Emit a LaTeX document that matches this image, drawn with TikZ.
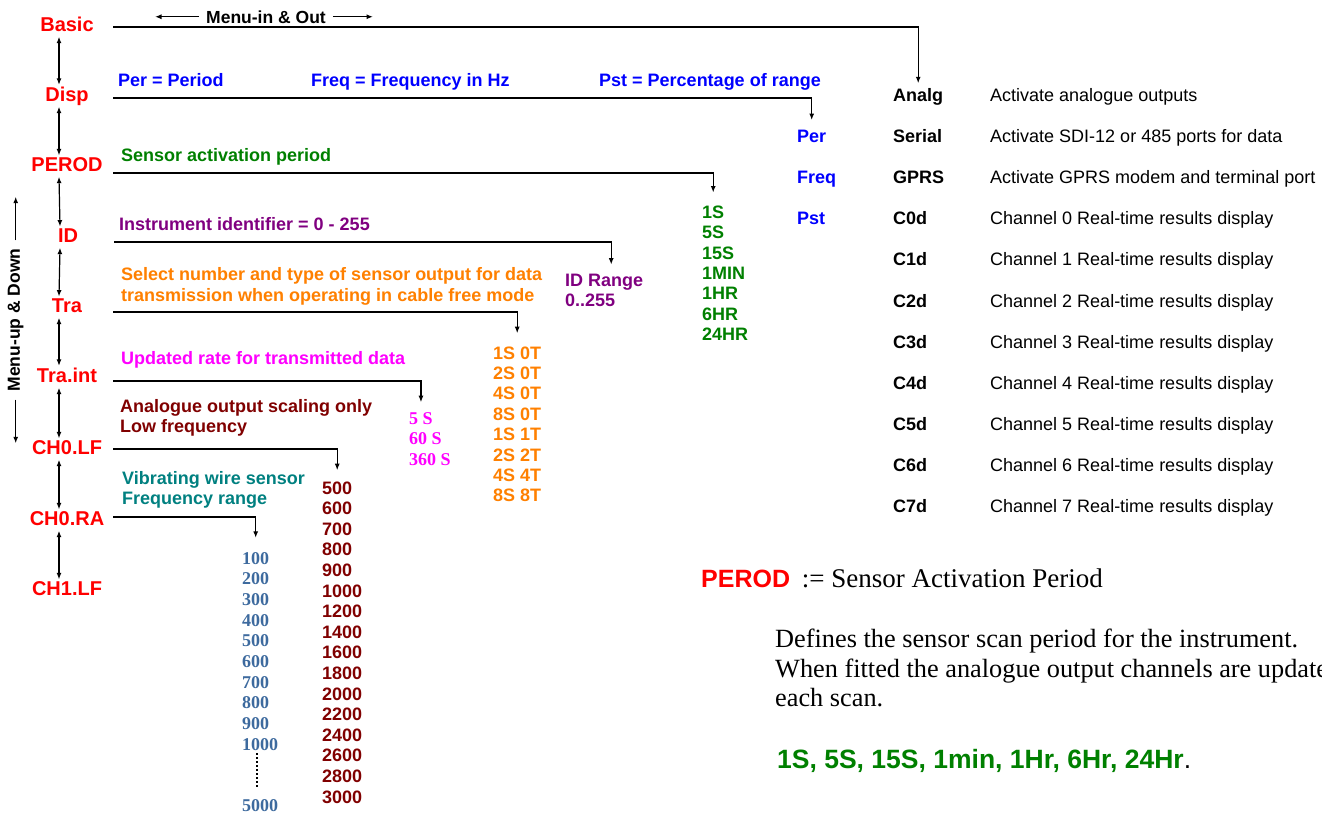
\documentclass[tikz,border=0pt]{standalone}
\usepackage{fontspec}
\setmainfont{Liberation Sans}
\newfontfamily\timesfont{Liberation Serif}
\usetikzlibrary{arrows.meta}
\definecolor{mred}{HTML}{FF0000}
\definecolor{mblue}{HTML}{0000FF}
\definecolor{mgreen}{HTML}{008000}
\definecolor{mpurple}{HTML}{800080}
\definecolor{morange}{HTML}{FF8000}
\definecolor{mmagenta}{HTML}{FF00FF}
\definecolor{mdark}{HTML}{800000}
\definecolor{mteal}{HTML}{008080}
\definecolor{msteel}{HTML}{3D6A9E}
\tikzset{
  menu/.style={font=\fontsize{20}{22}\selectfont\bfseries,text=mred,anchor=base,inner xsep=0pt,inner ysep=1.5pt,minimum width=92pt,text depth=4pt},
  desc/.style={font=\fontsize{18}{20.5}\selectfont\bfseries,anchor=base west,inner sep=0pt,align=left},
  opt/.style={font=\fontsize{18}{20}\selectfont\bfseries,anchor=base west,inner sep=0pt},
  num/.style={font=\timesfont\fontsize{18}{20}\selectfont\bfseries,anchor=base west,inner sep=0pt},
  key/.style={font=\fontsize{18}{20}\selectfont\bfseries,anchor=base west,inner sep=0pt},
  info/.style={font=\fontsize{18}{20}\selectfont,anchor=base west,inner sep=0pt},
  hint/.style={font=\fontsize{17.5}{20}\selectfont\bfseries},
  arr/.style={-{Latex[length=6.5pt,width=5pt]},line width=1.2pt},
  darr/.style={{Latex[length=6.5pt,width=5pt]}-{Latex[length=6.5pt,width=5pt]},line width=1.2pt},
  dots/.style={line width=2pt,dash pattern=on 2pt off 2pt},
}
\begin{document}
\begin{tikzpicture}[x=1pt,y=-1pt]
  \useasboundingbox (0,0) rectangle (1322,814);
  \clip (0,0) rectangle (1322,814);
  % menu column
  \node[menu] (basic) at (67,31) {Basic};
  \node[menu] (disp) at (67,101) {Disp};
  \node[menu] (perod) at (67,171) {PEROD};
  \node[menu] (ident) at (68,242) {ID};
  \node[menu] (tra) at (67,312) {Tra};
  \node[menu] (traint) at (67,382) {Tra.int};
  \node[menu] (chlf) at (67,454) {CH0.LF};
  \node[menu] (chra) at (67,525) {CH0.RA};
  \node[menu] (chonelf) at (67,595) {CH1.LF};
  \foreach \a/\b in {basic/disp,disp/perod,perod/ident,ident/tra,tra/traint,traint/chlf,chlf/chra,chra/chonelf}
    \draw[darr] ([xshift=-8pt]\a.south) -- ([xshift=-8pt]\b.north);
  % navigation hints
  \node[hint,anchor=base,inner xsep=7pt] (inout) at (266,23) {Menu-in \& Out};
  \coordinate (inl) at (155,17);
  \coordinate (inr) at (373,17);
  \draw[arr] (inout.west) -- (inl |- inout.west);
  \draw[arr] (inout.east) -- (inr |- inout.east);
  \node[hint,rotate=90,inner xsep=8pt] (updown) at (15.7,320) {Menu-up \& Down};
  \coordinate (uptip) at (15.7,196.7);
  \coordinate (dntip) at (15.7,443.3);
  \draw[arr] (updown.east) -- (uptip);
  \draw[arr] (updown.west) -- (dntip);
  % explanations (multi-line nodes sit on their last line)
  \node[desc,text=mblue] (perdef) at (118,86) {Per = Period};
  \node[desc,text=mblue] (freqdef) at (311,86) {Freq = Frequency in Hz};
  \node[desc,text=mblue] (pstdef) at (599,86) {Pst = Percentage of range};
  \node[desc,text=mgreen] (perodtxt) at (121,161) {Sensor activation period};
  \node[desc,text=mpurple] (idtxt) at (119,230) {Instrument identifier = 0 - 255};
  \node[desc,text=morange] (tratxt) at (121,301) {Select number and type of sensor output for data\\transmission when operating in cable free mode};
  \node[desc,text=mmagenta] (traintxt) at (121,364) {Updated rate for transmitted data};
  \node[desc,text=mdark] (lftxt) at (120,432.5) {Analogue output scaling only\\Low frequency};
  \node[desc,text=mteal] (ratxt) at (122,504.5) {Vibrating wire sensor\\Frequency range};
  \node[desc,text=mpurple] (idrange) at (565,306.7) {ID Range\\0..255};
  % value lists
  \foreach \v [count=\i] in {1S,5S,15S,1MIN,1HR,6HR,24HR}
    \node[opt,text=mgreen] (pd\i) at (702,{218.3+20.4*(\i-1)}) {\v};
  \foreach \v [count=\i] in {1S 0T,2S 0T,4S 0T,8S 0T,1S 1T,2S 2T,4S 4T,8S 8T}
    \node[opt,text=morange] (tr\i) at (493,{359+20.4*(\i-1)}) {\v};
  \foreach \v [count=\i] in {5 S,60 S,360 S}
    \node[num,text=mmagenta] (ti\i) at (409,{424.3+20.4*(\i-1)}) {\v};
  \foreach \v [count=\i] in {500,600,700,800,900,1000,1200,1400,1600,1800,2000,2200,2400,2600,2800,3000}
    \node[opt,text=mdark] (lf\i) at (322,{494+20.6*(\i-1)}) {\v};
  \foreach \v [count=\i] in {100,200,...,1000}
    \node[num,text=msteel] (ra\i) at (242,{564+20.67*(\i-1)}) {\v};
  \node[num,text=msteel] (raend) at (242,811.7) {5000};
  \draw[dots,shorten <=3pt,shorten >=12pt] ([xshift=-3pt]ra10.south) -- ([xshift=-3pt]raend.north);
  % display options
  \node[opt,text=mblue] (per) at (797,142.6) {Per};
  \node[opt,text=mblue] (freq) at (797,183.7) {Freq};
  \node[opt,text=mblue] (pst) at (797,224.8) {Pst};
  % basic menu items
  \foreach \k/\t [count=\i from 0] in {Analg/Activate analogue outputs,Serial/Activate SDI-12 or 485 ports for data,GPRS/Activate GPRS modem and terminal port}{
    \node[key] (\k) at (893,{101.5+41.1*\i}) {\k};
    \node[info] (txt\k) at (990,{101.5+41.1*\i}) {\t};
  }
  \foreach \ch in {0,...,7}{
    \node[key] (C\ch d) at (893,{224.8+41.1*\ch}) {C\ch d};
    \node[info] (txtC\ch) at (990,{224.8+41.1*\ch}) {Channel \ch\ Real-time results display};
  }
  % menu connectors
  \draw[arr] ([yshift=4pt]basic.base east) -| ([yshift=5pt]Analg.north);
  \draw[arr] ([yshift=3pt]disp.base east) -| ([yshift=10pt]per.north);
  \draw[arr] ([yshift=-2pt]perod.base east) -| ([yshift=13pt]pd1.north);
  \draw[arr] (ident.base east) -| ([xshift=7pt,yshift=9pt]idrange.north);
  \draw[arr] (tra.base east) -| ([yshift=13pt]tr1.north);
  \draw[arr] ([yshift=1pt]traint.base east) -| ([yshift=10pt]ti1.north);
  \draw[arr] ([yshift=5pt]chlf.base east) -| ([yshift=11pt]lf1.north);
  \draw[arr] ([yshift=8pt]chra.base east) -| ([yshift=14pt]ra1.north);
  % PEROD note
  \node[anchor=base west,inner sep=0pt,font=\timesfont\fontsize{27}{30}\selectfont] (notehead) at (701,587.3) {{\fontspec{Liberation Sans}\color{mred}\fontsize{25}{30}\selectfont\bfseries PEROD}\hspace{5pt} := Sensor Activation Period};
  \node[anchor=base west,inner sep=0pt,align=left,font=\timesfont\fontsize{26.3}{29.5}\selectfont] (notebody) at (775,706.7) {Defines the sensor scan period for the instrument.\\When fitted the analogue output channels are updated at\\each scan.};
  \node[anchor=base west,inner sep=0pt,font=\fontsize{26.5}{30}\selectfont] (notevals) at (777,768.3) {\textcolor{mgreen}{\bfseries 1S, 5S, 15S, 1min, 1Hr, 6Hr, 24Hr}.};
\end{tikzpicture}
\end{document}
